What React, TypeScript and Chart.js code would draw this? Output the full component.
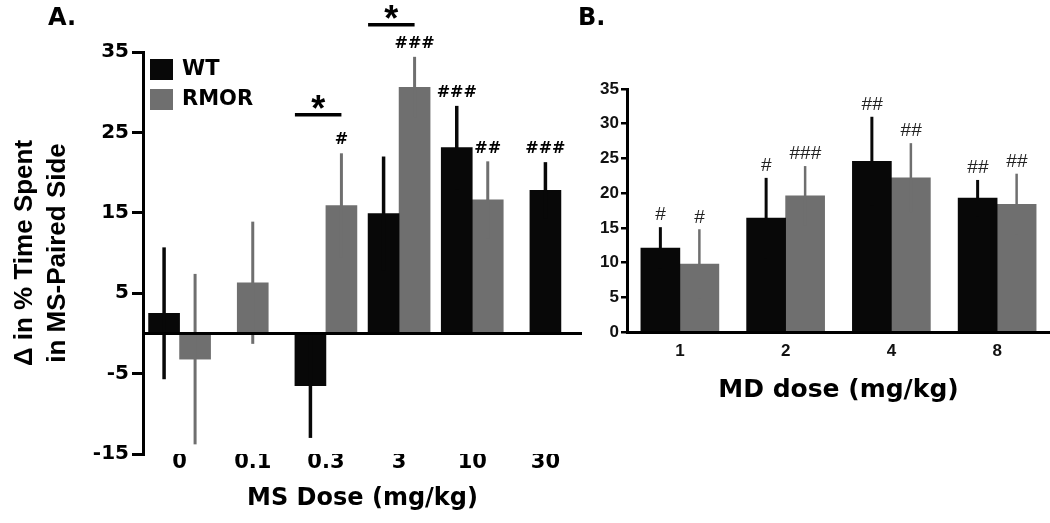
import React, { useEffect, useRef } from 'react';
import { Chart, registerables } from 'chart.js';

Chart.register(...registerables);

// ---------- Panel A data (MS) ----------
const MS_DOSES = ['0', '0.1', '0.3', '3', '10', '30'];
const MS_WT = [2.5, null, -6.5, 14.9, 23.1, 17.8];
const MS_WT_ERR = [8.2, null, 6.5, 7.1, 5.2, 3.5];
const MS_RMOR = [-3.2, 6.3, 15.9, 30.6, 16.6, null];
const MS_RMOR_ERR = [10.6, 7.6, 6.5, 3.8, 4.8, null];
const MS_WT_SIG = ['', '', '', '', '###', '###'];
const MS_RMOR_SIG = ['', '', '#', '###', '##', ''];
const MS_BRACKET_DOSES = ['0.3', '3'];
const MS_BRACKET_LEVELS = [27.2, 38.4];
const MS_BRACKET_LABELS = ['*', '*'];
const MS_TICKS = [-15, -5, 5, 15, 25, 35];

// ---------- Panel B data (MD) ----------
const MD_DOSES = ['1', '2', '4', '8'];
const MD_WT = [12.1, 16.4, 24.6, 19.3];
const MD_WT_ERR = [3.0, 5.8, 6.4, 2.6];
const MD_RMOR = [9.8, 19.6, 22.2, 18.4];
const MD_RMOR_ERR = [5.0, 4.3, 5.0, 4.4];
const MD_WT_SIG = ['#', '#', '##', '##'];
const MD_RMOR_SIG = ['#', '###', '##', '##'];
const MD_TICKS = [0, 5, 10, 15, 20, 25, 30, 35];

const SERIES = ['WT', 'RMOR'];
const WT_COLOR = '#080808';
const RMOR_COLOR = '#6f6f6f';

const DV = '"DejaVu Sans", sans-serif';
const LS = '"Liberation Sans", Arial, sans-serif';

type PanelCfg = {
  errors: (number | null)[][];
  sigs: string[][];
  errWidths: number[];
  sigFont: string;
  sigColor: string;
  sigOffset: number;
  zeroLine: boolean;
  legend: boolean;
  letter: string;
  letterX: number;
  letterY: number;
  brackets?: { dose: string; level: number; label: string }[];
};

function annotPlugin(cfg: PanelCfg) {
  return {
    id: 'annot',
    afterDatasetsDraw(chart: any) {
      const ctx = chart.ctx;
      const ys = chart.scales.y;
      const area = chart.chartArea;
      ctx.save();
      // error bars + significance marks
      chart.data.datasets.forEach((ds: any, i: number) => {
        const meta = chart.getDatasetMeta(i);
        meta.data.forEach((bar: any, j: number) => {
          const v = ds.data[j];
          const e = cfg.errors[i][j];
          if (v == null || e == null) return;
          const top = ys.getPixelForValue(v + e);
          const bot = ys.getPixelForValue(v - e);
          ctx.strokeStyle = ds.backgroundColor;
          ctx.lineWidth = cfg.errWidths[i];
          ctx.lineCap = 'butt';
          ctx.beginPath();
          ctx.moveTo(bar.x, top);
          ctx.lineTo(bar.x, bot);
          ctx.stroke();
          const s = cfg.sigs[i][j];
          if (s) {
            ctx.fillStyle = cfg.sigColor;
            ctx.font = cfg.sigFont;
            ctx.textAlign = 'center';
            ctx.textBaseline = 'middle';
            ctx.fillText(s, bar.x, top - cfg.sigOffset);
          }
        });
      });
      // zero line
      if (cfg.zeroLine) {
        const y0 = ys.getPixelForValue(0);
        ctx.strokeStyle = '#000';
        ctx.lineWidth = 3;
        ctx.beginPath();
        ctx.moveTo(area.left, y0);
        ctx.lineTo(area.right, y0);
        ctx.stroke();
      }
      // brackets
      (cfg.brackets || []).forEach((b) => {
        const idx = chart.data.labels.indexOf(b.dose);
        const w = chart.getDatasetMeta(0).data[idx];
        const r = chart.getDatasetMeta(1).data[idx];
        const x1 = w.x - w.width / 2;
        const x2 = r.x;
        const yy = ys.getPixelForValue(b.level);
        ctx.strokeStyle = '#000';
        ctx.lineWidth = 3.5;
        ctx.beginPath();
        ctx.moveTo(x1, yy);
        ctx.lineTo(x2, yy);
        ctx.stroke();
        ctx.fillStyle = '#000';
        ctx.font = 'bold 36px ' + LS;
        ctx.textAlign = 'center';
        ctx.textBaseline = 'alphabetic';
        ctx.fillText(b.label, (x1 + x2) / 2, yy + 6);
      });
      // legend
      if (cfg.legend) {
        chart.data.datasets.forEach((ds: any, i: number) => {
          const sx = area.left + 7;
          const sy = area.top + 7 + i * 30;
          ctx.fillStyle = ds.backgroundColor;
          ctx.fillRect(sx, sy, 23, 21);
          ctx.fillStyle = '#000';
          ctx.font = 'bold 21px ' + DV;
          ctx.textAlign = 'left';
          ctx.textBaseline = 'middle';
          ctx.fillText(ds.label, sx + 32, sy + 11);
        });
      }
      // panel letter
      ctx.fillStyle = '#000';
      ctx.font = 'bold 24px ' + DV;
      ctx.textAlign = 'left';
      ctx.textBaseline = 'middle';
      ctx.fillText(cfg.letter, cfg.letterX, cfg.letterY);
      ctx.restore();
    },
  };
}

function configA(): any {
  const brackets = MS_BRACKET_DOSES.map((d, i) => ({
    dose: d,
    level: MS_BRACKET_LEVELS[i],
    label: MS_BRACKET_LABELS[i],
  }));
  return {
    type: 'bar',
    data: {
      labels: MS_DOSES,
      datasets: [
        { label: SERIES[0], data: MS_WT, backgroundColor: WT_COLOR, barThickness: 31, skipNull: true },
        { label: SERIES[1], data: MS_RMOR, backgroundColor: RMOR_COLOR, barThickness: 31, skipNull: true },
      ],
    },
    options: {
      responsive: false,
      animation: false,
      layout: { padding: { top: 52, right: 18, left: 0, bottom: 0 } },
      plugins: { legend: { display: false }, tooltip: { enabled: false } },
      scales: {
        x: {
          grid: { display: false, drawTicks: false },
          border: { display: false },
          ticks: { font: { family: DV, size: 21, weight: 'bold' }, color: '#000', padding: -4, maxRotation: 0, autoSkip: false },
          title: {
            display: true,
            text: 'MS Dose (mg/kg)',
            font: { family: DV, size: 24, weight: 'bold' },
            color: '#000',
            padding: { top: 0, bottom: 10 },
          },
          afterFit: (s: any) => { s.height = 69; },
        },
        y: {
          min: -15,
          max: 35,
          afterBuildTicks: (s: any) => { s.ticks = MS_TICKS.map((v) => ({ value: v })); },
          ticks: { font: { family: DV, size: 20, weight: 'bold' }, color: '#000', padding: 3 },
          grid: { drawOnChartArea: false, color: '#000', lineWidth: 3, tickLength: 11 },
          border: { color: '#000', width: 3 },
          title: {
            display: true,
            text: ['\u0394 in % Time Spent', 'in MS-Paired Side'],
            font: { family: LS, size: 26, weight: 'bold', lineHeight: 1.25 },
            color: '#000',
            padding: { top: 9, bottom: 0 },
          },
          afterFit: (s: any) => { s.width = 143; },
        },
      },
    },
    plugins: [
      annotPlugin({
        errors: [MS_WT_ERR, MS_RMOR_ERR],
        sigs: [MS_WT_SIG, MS_RMOR_SIG],
        errWidths: [3.5, 3],
        sigFont: 'bold 16px "DejaVu Serif", serif',
        sigColor: '#000',
        sigOffset: 13,
        zeroLine: true,
        legend: true,
        letter: 'A.',
        letterX: 48,
        letterY: 19,
        brackets,
      }),
    ],
  };
}

function configB(): any {
  return {
    type: 'bar',
    data: {
      labels: MD_DOSES,
      datasets: [
        { label: SERIES[0], data: MD_WT, backgroundColor: WT_COLOR, barThickness: 39 },
        { label: SERIES[1], data: MD_RMOR, backgroundColor: RMOR_COLOR, barThickness: 39 },
      ],
    },
    options: {
      responsive: false,
      animation: false,
      layout: { padding: { top: 89, right: 0, left: 0, bottom: 0 } },
      plugins: { legend: { display: false }, tooltip: { enabled: false } },
      scales: {
        x: {
          grid: { display: false, drawTicks: false },
          border: { display: true, color: '#000', width: 3 },
          ticks: { font: { family: LS, size: 17, weight: 'bold' }, color: '#111', padding: 9, maxRotation: 0, autoSkip: false },
          title: {
            display: true,
            text: 'MD dose (mg/kg)',
            font: { family: DV, size: 25, weight: 'bold' },
            color: '#000',
            padding: { top: 0, bottom: 118 },
          },
          afterFit: (s: any) => { s.height = 191; },
        },
        y: {
          min: 0,
          max: 35,
          afterBuildTicks: (s: any) => { s.ticks = MD_TICKS.map((v) => ({ value: v })); },
          ticks: { font: { family: LS, size: 17, weight: 'bold' }, color: '#111', padding: 2 },
          grid: { drawOnChartArea: false, color: '#000', lineWidth: 2.5, tickLength: 6 },
          border: { color: '#000', width: 3 },
          afterFit: (s: any) => { s.width = 57; },
        },
      },
    },
    plugins: [
      annotPlugin({
        errors: [MD_WT_ERR, MD_RMOR_ERR],
        sigs: [MD_WT_SIG, MD_RMOR_SIG],
        errWidths: [3, 2.5],
        sigFont: 'italic 19px ' + LS,
        sigColor: '#222',
        sigOffset: 12,
        zeroLine: false,
        legend: false,
        letter: 'B.',
        letterX: 8,
        letterY: 19,
      }),
    ],
  };
}

export default function App() {
  const aRef = useRef<HTMLCanvasElement | null>(null);
  const bRef = useRef<HTMLCanvasElement | null>(null);
  useEffect(() => {
    const a = new Chart(aRef.current as HTMLCanvasElement, configA());
    const b = new Chart(bRef.current as HTMLCanvasElement, configB());
    return () => {
      a.destroy();
      b.destroy();
    };
  }, []);
  return (
    <div style={{ position: 'fixed', left: 0, top: 0, width: 1050, height: 523, background: '#fff', overflow: 'hidden' }}>
      <canvas ref={aRef} width={600} height={523} style={{ position: 'absolute', left: 0, top: 0, width: 600, height: 523 }} />
      <canvas ref={bRef} width={480} height={523} style={{ position: 'absolute', left: 570, top: 0, width: 480, height: 523 }} />
    </div>
  );
}
